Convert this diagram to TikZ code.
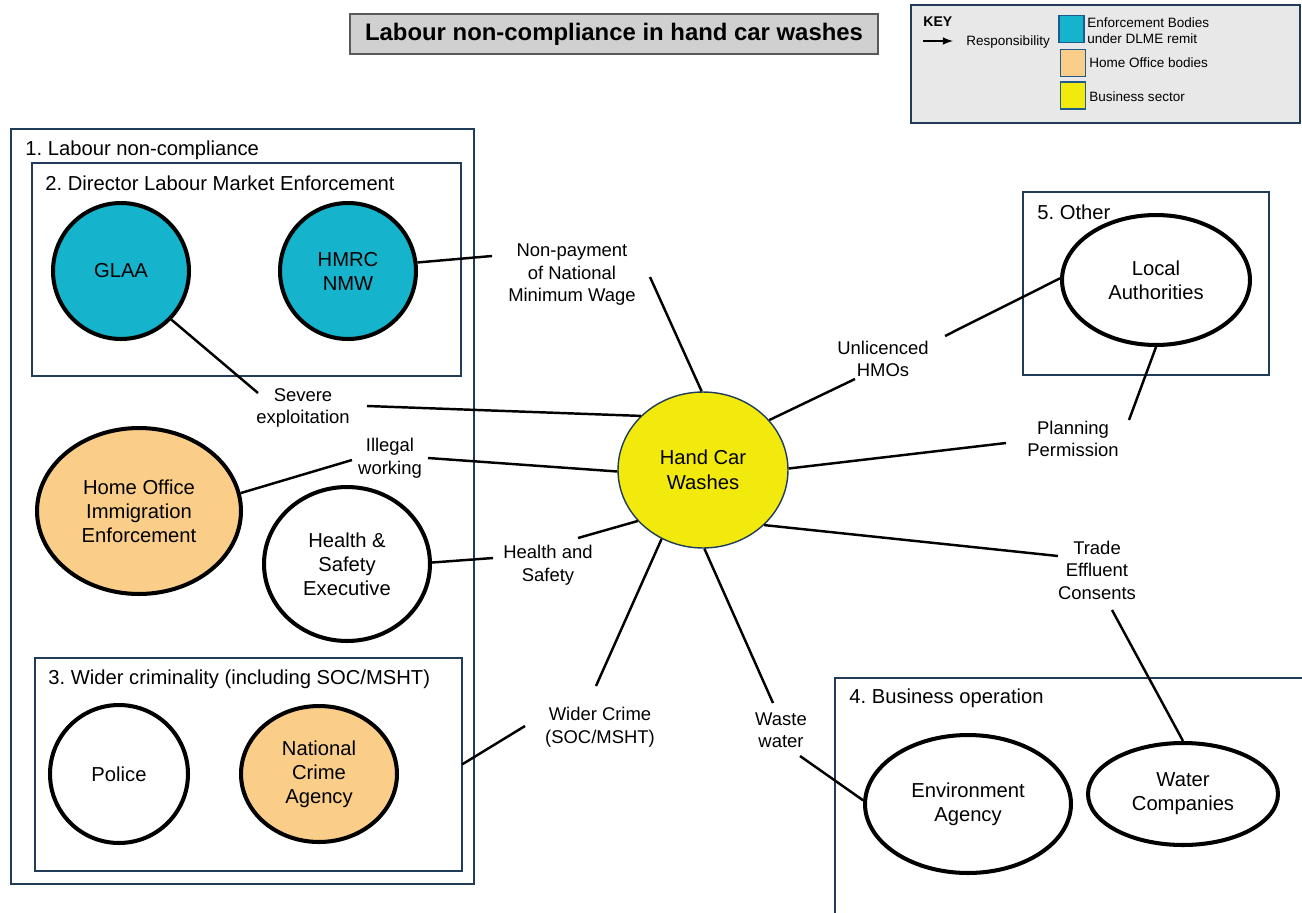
\documentclass[tikz,border=0pt]{standalone}
\usepackage{fontspec}
\setmainfont{Liberation Sans}
\usepackage{tikz}
\usetikzlibrary{shapes.geometric}
\frenchspacing
\definecolor{dlmeblue}{RGB}{22,180,204}
\definecolor{hoorange}{RGB}{250,206,136}
\definecolor{bizyellow}{RGB}{242,234,12}
\definecolor{framecol}{RGB}{32,60,88}
\definecolor{keyframe}{RGB}{30,90,140}
\definecolor{titlegray}{RGB}{208,208,208}
\definecolor{keygray}{RGB}{232,232,232}
\tikzset{
  grp/.style={draw=framecol,line width=1.1pt,inner sep=0pt,outer sep=0pt},
  grptitle/.style={anchor=west,inner sep=0pt,font=\fontsize{11.5}{13}\selectfont},
  body/.style={ellipse,draw,line width=2.3pt,align=center,inner sep=0pt,
    font=\fontsize{11.5}{13.6}\selectfont},
  issue/.style={align=center,inner sep=1pt,font=\fontsize{10.5}{12.8}\selectfont},
  keytext/.style={anchor=west,align=left,inner sep=0pt,font=\fontsize{7.7}{9}\selectfont},
  keybox/.style={draw=keyframe,line width=1pt,minimum width=0.5cm,minimum height=0.54cm},
  link/.style={line width=1.4pt},
}

\begin{document}
\begin{tikzpicture}[x=0.02cm,y=-0.02cm]
  \useasboundingbox (0,0) rectangle (1302,913);

  \node[draw=black!65,fill=titlegray,line width=0.8pt,minimum width=10.56cm,minimum height=0.8cm,
    font=\bfseries\fontsize{13.6}{16}\selectfont] (title) at (614,34) {Labour non-compliance in hand car washes};

  \node[draw=framecol,fill=keygray,line width=1.2pt,minimum width=7.78cm,minimum height=2.36cm] (key) at (1105.5,64) {};
  \node[anchor=west,inner sep=0pt,font=\bfseries\fontsize{8}{9}\selectfont] (keyhead) at (923,22) {KEY};
  \coordinate (resp-a) at (923,41);
  \coordinate (resp-b) at (953,41);
  \draw[-latex,line width=1pt] (resp-a) -- (resp-b);
  \node[keytext] (resp) at (966,42) {Responsibility};
  \node[keybox,fill=dlmeblue] (key-dlme) at (1071.5,29) {};
  \node[keybox,fill=hoorange] (key-ho) at (1073,63) {};
  \node[keybox,fill=bizyellow] (key-biz) at (1073,95.5) {};
  \node[keytext] (key-dlme-t) at (1087,31) {Enforcement Bodies\\under DLME remit};
  \node[keytext] (key-ho-t) at (1089,63) {Home Office bodies};
  \node[keytext] (key-biz-t) at (1089,97) {Business sector};

  \node[grp,minimum width=9.26cm,minimum height=15.1cm] (lnc) at (242.5,506.5) {};
  \node[grp,minimum width=8.58cm,minimum height=4.26cm] (dlme) at (246.5,269.5) {};
  \node[grp,minimum width=8.54cm,minimum height=4.26cm] (crime) at (248.5,764.5) {};
  \node[grp,minimum width=9.5cm,minimum height=4.94cm] (bizop) at (1072.5,801.5) {};
  \node[grp,minimum width=4.92cm,minimum height=3.66cm] (other) at (1146,283.5) {};

  \node[body,fill=dlmeblue,minimum width=2.72cm,minimum height=2.72cm] (glaa) at (121,271) {GLAA};
  \node[body,fill=dlmeblue,minimum width=2.72cm,minimum height=2.72cm] (hmrc) at (348,271) {HMRC\\NMW};
  \node[body,fill=hoorange,minimum width=4.08cm,minimum height=3.32cm] (hoie) at (139,511) {Home Office\\Immigration\\Enforcement};
  \node[body,fill=white,minimum width=3.32cm,minimum height=3.08cm] (hse) at (347,564) {Health \&\\Safety\\Executive};
  \node[body,fill=white,minimum width=2.76cm,minimum height=2.76cm] (police) at (119,774) {Police};
  \node[body,fill=hoorange,minimum width=3.12cm,minimum height=2.72cm] (nca) at (319,774) {National\\Crime\\Agency};
  \node[body,fill=white,minimum width=3.76cm,minimum height=2.6cm] (la) at (1156,280) {Local\\Authorities};
  \node[body,fill=white,minimum width=4.12cm,minimum height=2.76cm] (ea) at (968,804) {Environment\\Agency};
  \node[body,fill=white,minimum width=3.8cm,minimum height=2.04cm] (wc) at (1183,794) {Water\\Companies};
  \node[body,fill=bizyellow,draw=framecol,line width=0.8pt,minimum width=3.4cm,minimum height=3.12cm,
    font=\fontsize{11.5}{14.5}\selectfont] (hcw) at (703,470) {Hand Car\\Washes};

  \node[grptitle] at ([shift={(14,21)}]lnc.north west) {1. Labour non-compliance};
  \node[grptitle] at ([shift={(13,20)}]dlme.north west) {2. Director Labour Market Enforcement};
  \node[grptitle] at ([shift={(13,21)}]crime.north west) {3. Wider criminality (including SOC/MSHT)};
  \node[grptitle] at ([shift={(14,20)}]bizop.north west) {4. Business operation};
  \node[grptitle] at ([shift={(14,20)}]other.north west) {5. Other};

  \node[issue] (npay) at (572,275) {Non-payment\\of National\\Minimum Wage};
  \node[issue] (sevx) at (303,408) {Severe\\exploitation};
  \node[issue] (illw) at (390,458) {Illegal\\working};
  \node[issue] (hsl) at (548,565) {Health and\\Safety};
  \node[issue] (wcr) at (600,727) {Wider Crime\\(SOC/MSHT)};
  \node[issue] (wwat) at (781,730) {Waste\\water};
  \node[issue] (tec) at (1097,570) {Trade\\Effluent\\Consents};
  \node[issue] (plan) at (1073,439) {Planning\\Permission};
  \node[issue] (hmo) at (883,359) {Unlicenced\\HMOs};

  \path[link]
  (hmrc.7) edge ([shift={(-80,-19)}]npay.center)
  ([shift={(78,2)}]npay.center) edge (hcw.91)
  (glaa.-44) edge ([shift={(-45,-15)}]sevx.center)
  ([shift={(64,-2)}]sevx.center) edge (hcw.139)
  (hoie.10) edge ([shift={(-38,2)}]illw.center)
  ([shift={(38,0)}]illw.center) edge (hcw.181)
  (hse.1) edge ([shift={(-55,-7)}]hsl.center)
  ([shift={(30,-27)}]hsl.center) edge (hcw.218)
  (hcw.-121) edge ([shift={(-4,-41)}]wcr.center)
  ([shift={(-75,-1)}]wcr.center) edge (crime.east)
  (hcw.-89) edge ([shift={(-8,-27)}]wwat.center)
  ([shift={(19,26)}]wwat.center) edge (ea.178)
  (hcw.-42) edge ([shift={(-39,-14)}]tec.center)
  ([shift={(15,40)}]tec.center) edge (wc.north)
  (hcw.1) edge ([shift={(-67,4)}]plan.center)
  ([shift={(56,-19)}]plan.center) edge (la.south)
  (hcw.37) edge ([shift={(-28,20)}]hmo.center)
  ([shift={(62,-23)}]hmo.center) edge (la.179);
\end{tikzpicture}
\end{document}
